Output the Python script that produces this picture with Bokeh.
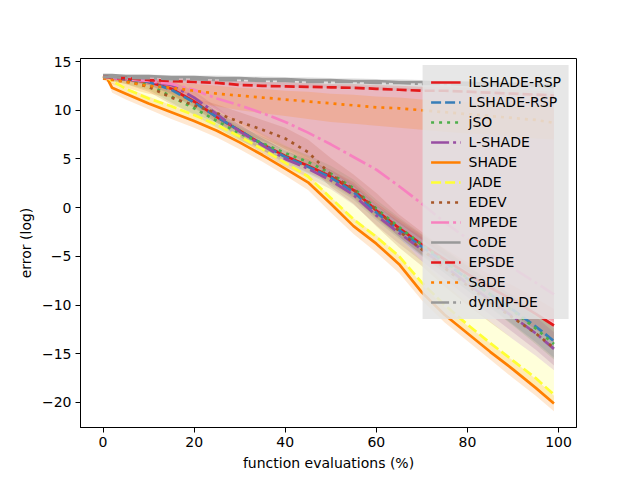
from bokeh.plotting import figure
from bokeh.models import Range1d, FixedTicker, Legend, LegendItem
from bokeh.embed import file_html
from bokeh.resources import INLINE

# ---- data ----
x = [0, 1, 2, 5, 10, 15, 20, 25, 30, 35, 40, 45, 50, 55, 60, 65, 70, 75, 80, 85, 90, 95, 99]

names = ["iLSHADE-RSP", "LSHADE-RSP", "jSO", "L-SHADE", "SHADE", "JADE",
         "EDEV", "MPEDE", "CoDE", "EPSDE", "SaDE", "dynNP-DE"]

ilshade_rsp    = [13.3, 13.3, 13.3, 13.2, 12.9, 12.2, 10.9, 9.3, 7.9, 6.5, 5.3, 4.3, 3.2, 1.8, -0.3, -2.1, -3.8, -5.3, -6.8, -8.2, -9.5, -10.9, -12.1]
ilshade_rsp_lo = [13.1, 13.1, 13.1, 13.0, 12.6, 11.7, 10.3, 8.7, 7.3, 5.9, 4.7, 3.6, 2.5, 1.0, -1.1, -3.0, -4.8, -6.4, -8.0, -9.5, -11.0, -12.5, -13.8]
ilshade_rsp_hi = [13.5, 13.5, 13.5, 13.4, 13.2, 12.7, 11.5, 9.9, 8.5, 7.1, 5.9, 5.0, 3.9, 2.6, 0.5, -1.2, -2.8, -4.2, -5.6, -6.9, -8.0, -9.3, -10.4]

lshade_rsp    = [13.3, 13.3, 13.3, 13.2, 12.9, 12.1, 10.8, 9.3, 7.9, 6.5, 5.2, 4.2, 3.1, 1.6, -0.5, -2.3, -4.0, -5.6, -7.3, -8.9, -10.5, -12.2, -13.7]
lshade_rsp_lo = [13.1, 13.1, 13.1, 13.0, 12.6, 11.6, 10.2, 8.7, 7.3, 5.9, 4.5, 3.5, 2.3, 0.8, -1.3, -3.2, -5.0, -6.7, -8.5, -10.2, -12.0, -13.8, -15.4]
lshade_rsp_hi = [13.5, 13.5, 13.5, 13.4, 13.2, 12.6, 11.4, 9.9, 8.5, 7.1, 5.9, 4.9, 3.9, 2.4, 0.3, -1.4, -3.0, -4.5, -6.1, -7.6, -9.0, -10.6, -12.0]

jso    = [13.3, 13.3, 13.2, 13.0, 12.6, 11.4, 10.2, 8.9, 7.6, 6.6, 5.6, 4.7, 3.5, 2.0, -0.1, -2.0, -3.8, -5.5, -7.2, -8.9, -10.6, -12.4, -14.0]
jso_lo = [13.1, 13.1, 13.0, 12.7, 12.1, 10.8, 9.5, 8.2, 6.9, 5.9, 4.9, 4.0, 2.7, 1.1, -1.0, -3.0, -4.9, -6.7, -8.5, -10.3, -12.1, -14.0, -15.6]
jso_hi = [13.5, 13.5, 13.4, 13.3, 13.0, 12.0, 10.9, 9.6, 8.3, 7.3, 6.3, 5.4, 4.3, 2.9, 0.8, -1.0, -2.7, -4.3, -5.9, -7.5, -9.1, -10.8, -12.4]

l_shade    = [13.3, 13.3, 13.3, 13.2, 13.0, 12.6, 11.3, 9.6, 7.8, 6.4, 5.0, 4.0, 2.8, 1.3, -0.8, -2.6, -4.3, -6.0, -7.8, -9.5, -11.2, -12.9, -14.5]
l_shade_lo = [13.1, 13.1, 13.1, 13.0, 12.7, 12.1, 10.6, 8.9, 7.0, 5.6, 4.2, 3.1, 1.9, 0.3, -1.8, -3.7, -5.5, -7.3, -9.2, -11.0, -12.8, -14.6, -16.2]
l_shade_hi = [13.5, 13.5, 13.5, 13.4, 13.3, 13.0, 12.0, 10.3, 8.6, 7.2, 5.8, 4.9, 3.7, 2.3, 0.2, -1.5, -3.1, -4.7, -6.4, -8.0, -9.6, -11.2, -12.8]

shade    = [13.5, 13.2, 12.3, 11.7, 10.7, 9.8, 8.9, 7.9, 6.7, 5.4, 4.0, 2.6, 0.4, -1.9, -3.7, -5.8, -8.7, -11.0, -12.9, -14.8, -16.6, -18.5, -20.1]
shade_lo = [13.3, 12.9, 11.8, 11.1, 10.1, 9.1, 8.2, 7.2, 6.0, 4.7, 3.3, 1.8, -0.5, -2.7, -4.6, -6.7, -9.5, -11.8, -13.7, -15.6, -17.5, -19.3, -20.9]
shade_hi = [13.6, 13.4, 12.8, 12.3, 11.4, 10.5, 9.6, 8.6, 7.4, 6.1, 4.7, 3.4, 1.1, -1.1, -2.8, -4.9, -7.9, -10.2, -12.1, -13.9, -15.7, -17.6, -19.3]

jade    = [13.4, 13.3, 13.0, 12.2, 11.2, 10.4, 9.5, 8.5, 7.3, 6.0, 4.6, 3.2, 1.0, -1.2, -3.0, -5.0, -7.7, -10.0, -12.0, -13.9, -15.7, -17.5, -19.2]
jade_lo = [13.2, 13.1, 12.7, 11.8, 10.7, 9.9, 9.0, 8.0, 6.8, 5.5, 4.1, 2.7, 0.5, -1.7, -3.6, -5.6, -8.4, -10.7, -12.7, -14.7, -16.6, -18.5, -20.2]
jade_hi = [13.6, 13.5, 13.4, 13.0, 12.4, 11.8, 11.0, 10.0, 8.8, 7.6, 6.4, 5.3, 3.0, 1.2, -0.8, -3.0, -5.5, -7.8, -9.8, -11.7, -13.5, -15.2, -16.7]

edev    = [13.3, 13.3, 13.2, 13.0, 12.4, 11.3, 10.5, 9.7, 8.8, 8.0, 7.1, 5.7, 3.4, 1.9, -0.2, -2.4, -4.3, -6.2, -8.0, -9.7, -11.3, -12.9, -14.4]
edev_lo = [13.1, 13.1, 13.0, 12.7, 11.9, 10.6, 9.6, 8.7, 7.8, 6.9, 5.9, 4.4, 2.1, 0.4, -1.9, -4.1, -6.0, -8.1, -10.0, -11.8, -13.5, -15.2, -16.7]
edev_hi = [13.5, 13.5, 13.4, 13.3, 12.9, 12.1, 11.3, 10.6, 9.8, 9.0, 8.2, 7.0, 5.1, 3.4, 1.5, -0.7, -2.5, -4.3, -6.0, -7.6, -9.1, -10.6, -12.0]

mpede    = [13.3, 13.3, 13.3, 13.2, 13.0, 12.7, 12.1, 11.2, 10.5, 9.7, 8.8, 7.7, 6.5, 5.2, 3.9, 2.2, 0.4, -1.5, -3.2, -4.8, -6.2, -7.7, -8.9]
mpede_lo = [13.1, 13.1, 13.1, 12.9, 12.6, 12.0, 11.0, 9.6, 8.2, 6.9, 5.6, 4.5, 3.3, 1.8, -0.3, -2.1, -3.8, -5.4, -7.0, -8.5, -9.8, -11.0, -12.0]
mpede_hi = [13.5, 13.5, 13.5, 13.5, 13.4, 13.3, 13.2, 13.1, 13.0, 12.9, 12.8, 12.7, 12.6, 12.5, 12.4, 12.3, 12.2, 12.1, 12.0, 11.9, 11.8, 11.7, 11.6]

code    = [13.6, 13.6, 13.6, 13.5, 13.5, 13.4, 13.4, 13.3, 13.3, 13.2, 13.2, 13.1, 13.1, 13.0, 13.0, 12.9, 12.9, 12.8, 12.8, 12.7, 12.7, 12.6, 12.5]
code_lo = [13.4, 13.4, 13.3, 13.2, 13.0, 12.6, 11.6, 10.2, 8.8, 7.4, 6.2, 5.1, 3.9, 2.4, 0.4, -1.4, -3.1, -4.7, -6.3, -7.8, -9.3, -10.5, -11.6]
code_hi = [13.7, 13.7, 13.7, 13.7, 13.7, 13.6, 13.6, 13.6, 13.5, 13.5, 13.4, 13.4, 13.3, 13.3, 13.2, 13.2, 13.1, 13.1, 13.0, 13.0, 12.9, 12.9, 12.8]

epsde    = [13.4, 13.4, 13.3, 13.3, 13.1, 13.0, 12.9, 12.8, 12.6, 12.5, 12.45, 12.4, 12.35, 12.3, 12.2, 12.1, 12.0, 12.0, 11.9, 11.8, 11.7, 11.6, 11.5]
epsde_lo = [13.2, 13.2, 13.1, 13.0, 12.8, 12.3, 11.4, 10.0, 8.6, 7.2, 6.0, 4.9, 3.7, 2.2, 0.2, -1.6, -3.3, -4.9, -6.5, -8.0, -9.5, -10.7, -11.8]
epsde_hi = [13.6, 13.6, 13.5, 13.5, 13.4, 13.3, 13.2, 13.1, 13.0, 12.9, 12.9, 12.8, 12.7, 12.7, 12.6, 12.5, 12.4, 12.4, 12.3, 12.2, 12.1, 12.0, 11.9]

sade    = [13.3, 13.2, 13.1, 12.9, 12.5, 12.3, 12.0, 11.7, 11.5, 11.3, 11.1, 10.9, 10.7, 10.5, 10.3, 10.2, 10.0, 9.8, 9.6, 9.4, 9.2, 9.0, 8.7]
sade_lo = [13.1, 12.9, 12.7, 12.3, 11.7, 11.3, 10.8, 10.4, 10.0, 9.7, 9.4, 9.1, 8.8, 8.6, 8.4, 8.2, 8.0, 7.8, 7.6, 7.5, 7.3, 7.1, 7.0]
sade_hi = [13.5, 13.5, 13.4, 13.3, 13.1, 12.9, 12.7, 12.5, 12.3, 12.2, 12.0, 11.9, 11.7, 11.6, 11.4, 11.3, 11.1, 11.0, 10.8, 10.7, 10.5, 10.4, 10.2]

dynnp_de    = [13.4, 13.4, 13.4, 13.3, 13.3, 13.2, 13.2, 13.1, 13.1, 13.0, 13.0, 12.9, 12.9, 12.9, 12.8, 12.8, 12.7, 12.7, 12.6, 12.6, 12.5, 12.5, 12.4]
dynnp_de_lo = [13.2, 13.2, 13.2, 13.1, 13.0, 12.9, 12.8, 12.7, 12.6, 12.5, 12.4, 12.3, 12.3, 12.2, 12.1, 12.0, 12.0, 11.9, 11.8, 11.7, 11.7, 11.6, 11.5]
dynnp_de_hi = [13.6, 13.6, 13.6, 13.5, 13.5, 13.4, 13.4, 13.3, 13.3, 13.3, 13.2, 13.2, 13.1, 13.1, 13.1, 13.0, 13.0, 12.9, 12.9, 12.9, 12.8, 12.8, 12.7]

x_ticks = [0, 20, 40, 60, 80, 100]
y_ticks = [-20, -15, -10, -5, 0, 5, 10, 15]

# ---- styling ----
colors = ["#e41a1c", "#377eb8", "#4daf4a", "#984ea3", "#ff7f00", "#ffff33",
          "#a65628", "#f781bf", "#999999", "#e41a1c", "#ff7f00", "#999999"]
dashes = ["solid", "10 4", "3 5", "18 4 3 4"] * 3

series = [
    (ilshade_rsp, ilshade_rsp_lo, ilshade_rsp_hi),
    (lshade_rsp, lshade_rsp_lo, lshade_rsp_hi),
    (jso, jso_lo, jso_hi),
    (l_shade, l_shade_lo, l_shade_hi),
    (shade, shade_lo, shade_hi),
    (jade, jade_lo, jade_hi),
    (edev, edev_lo, edev_hi),
    (mpede, mpede_lo, mpede_hi),
    (code, code_lo, code_hi),
    (epsde, epsde_lo, epsde_hi),
    (sade, sade_lo, sade_hi),
    (dynnp_de, dynnp_de_lo, dynnp_de_hi),
]

FONT = "DejaVu Sans"
FS = "14px"

p = figure(frame_width=496, frame_height=369, output_backend="svg", toolbar_location=None,
           x_range=Range1d(-4.95, 103.95), y_range=Range1d(-22.57, 15.31),
           min_border_left=80, min_border_right=56, min_border_top=58, min_border_bottom=40)
p.background_fill_color = "white"
p.border_fill_color = "white"
p.outline_line_color = "black"
p.outline_line_width = 1
p.xgrid.visible = False
p.ygrid.visible = False

for (mid, lo, hi), c in zip(series, colors):
    p.varea(x=x, y1=lo, y2=hi, fill_color=c, fill_alpha=0.18)

items = []
for (mid, lo, hi), c, d, n in zip(series, colors, dashes, names):
    r = p.line(x, mid, line_color=c, line_width=2.7, line_dash=d)
    items.append(LegendItem(label=n, renderers=[r]))

legend = Legend(items=items, location="top_right")
legend.label_text_font = FONT
legend.label_text_font_size = FS
legend.label_text_color = "black"
legend.glyph_width = 30
legend.glyph_height = 18
legend.label_height = 18
legend.spacing = 2
legend.padding = 8
legend.margin = 7
legend.label_standoff = 8
legend.background_fill_color = "#e3e3e3"
legend.background_fill_alpha = 0.85
legend.border_line_alpha = 0
p.add_layout(legend)

for ax in (p.xaxis[0], p.yaxis[0]):
    ax.major_label_text_font = FONT
    ax.major_label_text_font_size = FS
    ax.major_label_text_color = "black"
    ax.axis_label_text_font = FONT
    ax.axis_label_text_font_size = FS
    ax.axis_label_text_font_style = "normal"
    ax.axis_label_text_color = "black"
    ax.major_tick_out = 5
    ax.major_tick_in = 0
    ax.minor_tick_line_color = None
    ax.axis_line_color = "black"
    ax.major_tick_line_color = "black"
    ax.major_label_standoff = 4
    ax.axis_label_standoff = 5

p.xaxis[0].ticker = FixedTicker(ticks=x_ticks)
p.yaxis[0].ticker = FixedTicker(ticks=y_ticks)
p.yaxis[0].major_label_overrides = {t: (str(t).replace("-", "\u2212")) for t in y_ticks}
p.xaxis[0].axis_label = "function evaluations (%)"
p.yaxis[0].axis_label = "error (log)"

open("out.html", "w").write(file_html(p, INLINE))
